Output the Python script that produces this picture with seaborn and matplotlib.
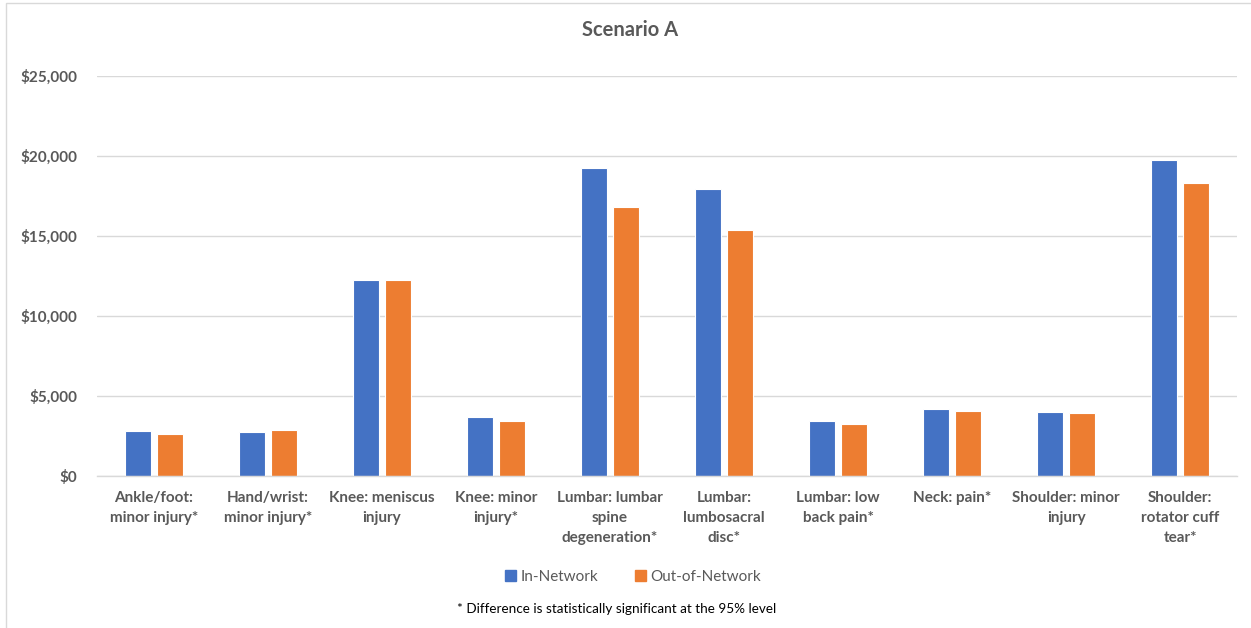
import matplotlib
matplotlib.use("Agg")
import matplotlib.pyplot as plt
from matplotlib.patches import Rectangle
from matplotlib.ticker import FuncFormatter
import pandas as pd
import seaborn as sns

# Average cost per episode by condition
conditions = [
    "Ankle/foot: minor injury*", "Hand/wrist: minor injury*", "Knee: meniscus injury",
    "Knee: minor injury*", "Lumbar: lumbar spine degeneration*", "Lumbar: lumbosacral disc*",
    "Lumbar: low back pain*", "Neck: pain*", "Shoulder: minor injury",
    "Shoulder: rotator cuff tear*",
]
tick_labels = [
    "Ankle/foot:\nminor injury*", "Hand/wrist:\nminor injury*", "Knee: meniscus\ninjury",
    "Knee: minor\ninjury*", "Lumbar: lumbar\nspine\ndegeneration*", "Lumbar:\nlumbosacral\ndisc*",
    "Lumbar: low\nback pain*", "Neck: pain*", "Shoulder: minor\ninjury",
    "Shoulder:\nrotator cuff\ntear*",
]
in_network = [2790, 2730, 12220, 3710, 19250, 17900, 3410, 4180, 4020, 19750]
out_of_network = [2650, 2850, 12260, 3430, 16770, 15360, 3270, 4060, 3960, 18290]
series_names = ["In-Network", "Out-of-Network"]

df = pd.DataFrame({
    "condition": conditions * 2,
    "network": [series_names[0]] * len(conditions) + [series_names[1]] * len(conditions),
    "cost": in_network + out_of_network,
})

sns.set_theme(style="white")
plt.rcParams["font.family"] = ["Lato", "DejaVu Sans"]

grey = "#595959"
colors = ["#4472C4", "#ED7D31"]
fig = plt.figure(figsize=(12.51, 6.28), dpi=100)
ax = fig.add_axes([0.0775, 0.242, 0.9115, 0.6375])

sns.barplot(
    data=df, x="condition", y="cost", hue="network", order=conditions,
    hue_order=series_names, palette=colors, saturation=1,
    width=0.57, gap=0.2, edgecolor="white", linewidth=0.8,
    legend=False, ax=ax,
)

ax.set_ylim(0, 25000)
ax.set_yticks(range(0, 25001, 5000))
ax.yaxis.set_major_formatter(FuncFormatter(lambda v, _: f"${v:,.0f}"))
ax.set_xlim(-0.5, len(conditions) - 0.5)
ax.set_xticks(range(len(conditions)))
ax.set_xticklabels(tick_labels, fontweight="bold", color=grey, fontsize=11,
                   linespacing=1.55)
for lab in ax.get_yticklabels():
    lab.set_fontweight("bold")
    lab.set_color(grey)
    lab.set_fontsize(11)
ax.tick_params(axis="both", length=0)
ax.tick_params(axis="x", pad=11)
ax.tick_params(axis="y", pad=14)
ax.set_xlabel("")
ax.set_ylabel("")
ax.grid(axis="y", color="#d9d9d9", linewidth=1)
ax.set_axisbelow(True)
for side in ["top", "right", "left"]:
    ax.spines[side].set_visible(False)
ax.spines["bottom"].set_color("#d9d9d9")
ax.spines["bottom"].set_linewidth(1)

fig.text(0.504, 0.953, "Scenario A", ha="center", va="center",
         fontsize=14.5, fontweight="bold", color=grey)

# Legend
handles = [Rectangle((0, 0), 1, 1, color=c) for c in colors]
fig.legend(handles, series_names, loc="center", bbox_to_anchor=(0.506, 0.081),
           ncol=2, frameon=False, fontsize=11, handlelength=0.7, handleheight=0.7,
           handletextpad=0.3, columnspacing=2.4, labelcolor=grey)

fig.text(0.493, 0.03, "* Difference is statistically significant at the 95% level",
         ha="center", va="center", fontsize=9.7, color="black")

# Chart-area border
fig.add_artist(Rectangle((0.005, -0.01), 1.0, 1.005, transform=fig.transFigure,
                         fill=False, edgecolor="#d9d9d9", linewidth=1))

fig.savefig("out.png", dpi=100)
